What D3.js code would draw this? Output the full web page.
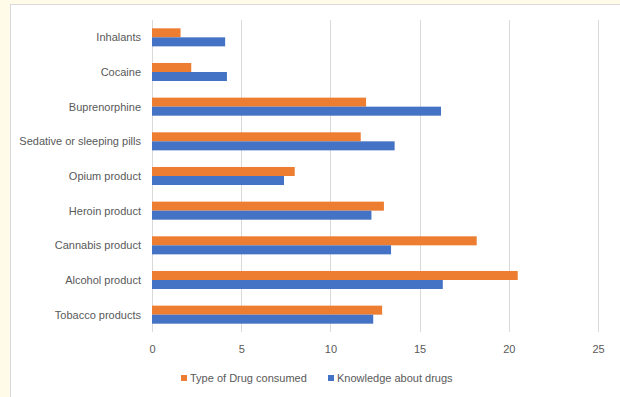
<!DOCTYPE html>
<html>
<head>
<style>
  body { margin: 0; background: #fffbe8; }
  svg { display: block; }
  .lbl { font-family: "Liberation Sans", sans-serif; font-size: 11px; fill: #595959; }
</style>
</head>
<body>
<svg width="620" height="397"></svg>
<script src="https://d3js.org/d3.v7.min.js"></script>
<script>
var categories = ["Inhalants", "Cocaine", "Buprenorphine", "Sedative or sleeping pills",
  "Opium product", "Heroin product", "Cannabis product", "Alcohol product", "Tobacco products"];
var drugConsumed = [1.6, 2.2, 12.0, 11.7, 8.0, 13.0, 18.2, 20.5, 12.9];
var knowledge = [4.1, 4.2, 16.2, 13.6, 7.4, 12.3, 13.4, 16.3, 12.4];
var seriesNames = ["Type of Drug consumed", "Knowledge about drugs"];
var colors = ["#ed7d31", "#4472c4"];
var xTicks = [0, 5, 10, 15, 20, 25];

var svg = d3.select("svg");

// white chart panel
svg.append("rect")
  .attr("x", 10.5).attr("y", 4.5)
  .attr("width", 612).attr("height", 400)
  .attr("fill", "#fff")
  .attr("stroke", "#d9d9d9");

var margin = {left: 152, top: 20, right: 22, bottom: 65};
var width = 620 - margin.left - margin.right;
var height = 397 - margin.top - margin.bottom;
var g = svg.append("g").attr("transform", "translate(" + margin.left + "," + margin.top + ")");

var x = d3.scaleLinear().domain([0, 25]).range([0, width]);
var y0 = d3.scaleBand().domain(categories).range([0, height]).paddingInner(0.48).paddingOuter(0.24);
var y1 = d3.scaleBand().domain(seriesNames).range([0, y0.bandwidth()]);

// gridlines
g.append("g").selectAll("line").data(xTicks).enter().append("line")
  .attr("x1", d => Math.round(x(d)) + 0.5).attr("x2", d => Math.round(x(d)) + 0.5)
  .attr("y1", 0).attr("y2", height)
  .attr("stroke", "#d9d9d9");

var rows = categories.map(function(c, i) {
  return {cat: c, vals: [drugConsumed[i], knowledge[i]]};
});

var grp = g.append("g").selectAll("g").data(rows).enter().append("g")
  .attr("transform", d => "translate(0," + y0(d.cat) + ")");
grp.selectAll("rect")
  .data(d => d.vals.map((v, j) => ({name: seriesNames[j], value: v, j: j})))
  .enter().append("rect")
  .attr("x", 0)
  .attr("y", d => y1(d.name))
  .attr("width", d => x(d.value))
  .attr("height", y1.bandwidth())
  .attr("fill", d => colors[d.j]);

// category labels
g.append("g").selectAll("text").data(categories).enter().append("text")
  .attr("class", "lbl")
  .attr("x", -11)
  .attr("y", d => y0(d) + y0.bandwidth() / 2)
  .attr("dy", "0.35em")
  .attr("text-anchor", "end")
  .text(d => d);

// x tick labels
var xAxis = g.append("g").attr("transform", "translate(0," + height + ")")
  .call(d3.axisBottom(x).tickValues(xTicks).tickSize(0).tickPadding(13));
xAxis.select(".domain").remove();
xAxis.selectAll("text").attr("class", "lbl").attr("font-size", null).attr("font-family", null);

// legend
var legendX = [181, 328];
var lg = svg.append("g").selectAll("g").data(seriesNames).enter().append("g")
  .attr("transform", (d, i) => "translate(" + legendX[i] + ",378)");
lg.append("rect").attr("x", 0).attr("y", -3).attr("width", 6).attr("height", 6)
  .attr("fill", (d, i) => colors[i]);
lg.append("text").attr("class", "lbl").attr("x", 9).attr("dy", "0.35em").text(d => d);
</script>
</body>
</html>
